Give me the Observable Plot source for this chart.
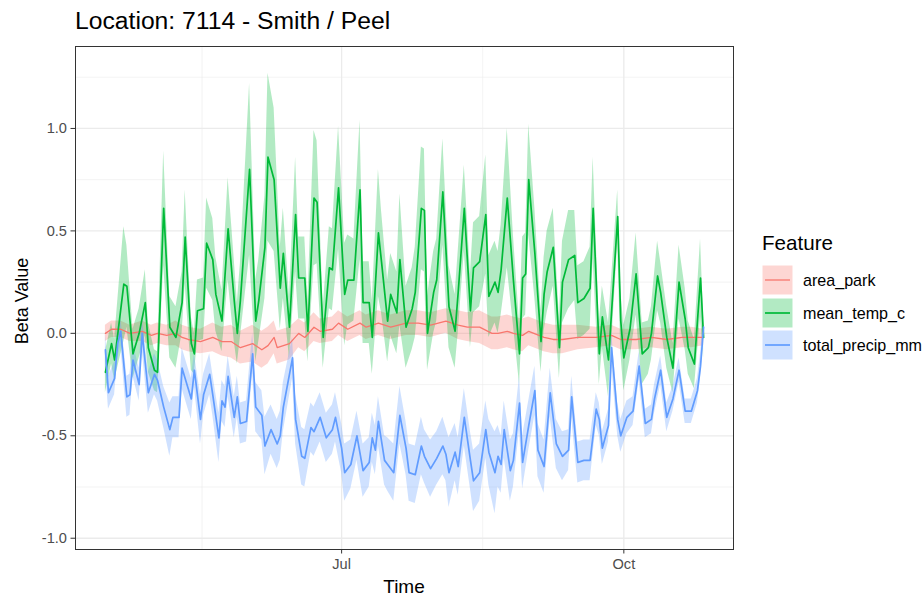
<!DOCTYPE html>
<html>
<head>
<meta charset="utf-8">
<script src="https://cdn.jsdelivr.net/npm/d3@7"></script>
<script src="https://cdn.jsdelivr.net/npm/@observablehq/plot@0.6"></script>
<style>
  html, body { margin: 0; padding: 0; background: #fff; overflow: hidden; }
  #wrap { position: relative; width: 923px; height: 597px; overflow: hidden; font-family: "Liberation Sans", Arial, sans-serif; }
  #chart { position: absolute; left: 0; top: 0; }
  .abs { position: absolute; white-space: nowrap; color: #000; line-height: 1; }
  #title { left: 75px; top: 9px; font-size: 24.7px; }
  #xlab { left: 404px; top: 577px; font-size: 19px; transform: translateX(-50%); }
  #ylab { left: 22px; top: 301px; font-size: 18px; transform: translate(-50%, -50%) rotate(-90deg); }
  #ltitle { left: 762px; top: 233px; font-size: 20.6px; }
  .lrow { position: absolute; left: 762px; height: 32.5px; display: flex; align-items: center; }
  .lrow span { font-size: 16.1px; margin-left: 10px; color: #000; line-height: 1; }
</style>
</head>
<body>
<div id="wrap">
  <div id="chart"></div>
  <div class="abs" id="title">Location: 7114 - Smith / Peel</div>
  <div class="abs" id="xlab">Time</div>
  <div class="abs" id="ylab">Beta Value</div>
  <div class="abs" id="ltitle">Feature</div>
</div>
<script>
// ---- data (day of year 2019) ----
const features = ["area_park", "mean_temp_c", "total_precip_mm"];
const colors = ["#F8766D", "#00BA38", "#619CFF"];

const parkDay = [105,107,110,113,117,120,122,125,128,130,132,136,140,143,146,149,153,156,158,160,161,165,168,170,173,175,179,181,184,188,190,194,198,203,207,211,216,220,223,227,231,233,236,238,241,243,248,251,254,259,265,270,273,278,283,288,293,296,300];
const parkMean = [0.0,0.02,0.02,0.0,0.01,-0.01,0.0,-0.01,0.0,-0.02,-0.03,-0.04,-0.02,-0.04,-0.04,-0.07,-0.05,-0.08,-0.06,-0.02,-0.07,-0.05,0.0,-0.02,0.03,0.01,0.02,0.05,0.02,0.05,0.03,0.05,0.03,0.05,0.05,0.04,0.06,0.04,0.03,0.03,0.0,0.0,0.01,0.0,-0.01,0.01,-0.02,-0.03,-0.03,-0.02,-0.02,-0.01,-0.03,-0.03,-0.02,-0.03,-0.02,-0.02,-0.02];
const parkErr = [.04,.04,.04,.04,.05,.05,.05,.05,.06,.06,.06,.06,.07,.07,.08,.08,.09,.09,.09,.08,.08,.08,.07,.07,.07,.06,.06,.06,.06,.06,.06,.06,.06,.06,.06,.06,.06,.07,.07,.08,.08,.08,.08,.08,.08,.07,.07,.07,.07,.06,.05,.05,.05,.05,.05,.05,.05,.05,.04];

const tempDay = [105,107,108,111,112,114,116,118,119,121,122,124,126,128,130,131,133,134,135,137,138,140,141,143,145,147,148,149,152,154,155,157,158,160,162,163,165,167,168,170,171,173,174,176,178,179,181,183,184,186,188,189,191,192,194,195,197,198,200,201,203,205,206,208,209,210,212,213,215,217,219,220,222,224,225,227,229,230,232,233,234,236,238,240,241,242,243,245,247,248,249,251,253,254,256,258,259,261,263,264,266,267,269,272,273,274,276,278,280,282,283,285,286,288,290,292,294,295,297,299,300];
const tempMean = [-0.19,-0.05,-0.13,0.24,0.23,-0.10,0.0,0.15,-0.07,-0.18,-0.19,0.61,0.03,-0.02,0.15,0.47,-0.05,-0.10,0.11,0.12,0.44,0.36,0.19,0.06,0.51,0.16,0.0,0.16,0.80,0.06,0.16,0.42,0.86,0.75,0.22,0.39,0.03,0.58,0.27,0.27,0.01,0.66,0.64,-0.02,0.32,0.31,0.71,0.19,0.26,0.26,0.70,0.15,0.15,-0.02,0.49,0.35,0.06,0.19,0.10,0.36,0.03,0.12,0.20,0.61,0.60,0.0,0.20,0.26,0.69,0.13,0.01,0.20,0.61,0.11,0.32,0.35,0.58,0.18,0.25,0.20,0.31,0.66,0.26,-0.10,0.27,0.29,0.75,0.39,-0.04,0.19,0.30,0.42,-0.07,0.25,0.36,0.38,0.15,0.17,0.22,0.61,-0.10,0.08,-0.13,0.57,0.06,-0.12,0.02,0.29,-0.10,-0.07,0.0,0.28,0.2,-0.02,-0.17,0.25,0.07,-0.07,-0.15,0.27,-0.02];
const tempErr = [.1,.1,.1,.28,.2,.12,.12,.16,.12,.1,.1,.28,.15,.15,.15,.23,.13,.1,.15,.15,.22,.2,.18,.15,.25,.2,.15,.18,.42,.2,.2,.25,.41,.35,.2,.22,.15,.28,.2,.2,.15,.33,.3,.15,.2,.2,.3,.25,.22,.2,.34,.2,.2,.18,.31,.25,.2,.2,.2,.32,.2,.2,.22,.3,.3,.18,.2,.2,.26,.2,.18,.2,.21,.18,.22,.22,.29,.2,.2,.2,.22,.34,.22,.15,.2,.2,.27,.22,.15,.18,.2,.19,.15,.2,.24,.22,.18,.18,.2,.25,.15,.15,.18,.13,.15,.16,.15,.2,.15,.13,.13,.17,.15,.15,.12,.18,.15,.13,.12,.19,.1];

const precipDay = [105,106,108,109,110,112,113,114,116,117,119,121,122,124,126,127,129,130,132,133,134,136,137,139,140,142,143,144,145,147,148,149,151,153,154,156,157,159,161,162,163,166,167,169,170,172,173,175,177,179,180,182,183,185,187,189,191,192,193,194,196,197,199,201,203,204,206,208,209,211,213,215,216,217,219,220,222,224,225,227,229,230,232,233,234,235,237,238,240,241,243,245,246,248,250,252,254,256,257,259,261,263,265,266,267,269,270,272,273,275,277,279,281,283,284,286,288,290,292,294,296,298,299,300];
const precipMean = [-0.08,-0.29,-0.22,-0.05,0.01,-0.31,-0.30,-0.13,-0.25,0.0,-0.29,-0.20,-0.23,-0.36,-0.47,-0.41,-0.41,-0.17,-0.27,-0.32,-0.18,-0.42,-0.30,-0.20,-0.30,-0.51,-0.33,-0.36,-0.21,-0.41,-0.31,-0.44,-0.43,-0.10,-0.36,-0.40,-0.55,-0.47,-0.54,-0.50,-0.36,-0.12,-0.42,-0.60,-0.61,-0.46,-0.48,-0.41,-0.51,-0.47,-0.41,-0.56,-0.68,-0.64,-0.50,-0.67,-0.63,-0.51,-0.57,-0.43,-0.62,-0.64,-0.68,-0.40,-0.56,-0.68,-0.69,-0.55,-0.60,-0.66,-0.61,-0.55,-0.59,-0.68,-0.58,-0.65,-0.41,-0.62,-0.72,-0.68,-0.47,-0.58,-0.68,-0.60,-0.64,-0.47,-0.67,-0.62,-0.34,-0.63,-0.45,-0.28,-0.57,-0.65,-0.29,-0.54,-0.60,-0.57,-0.31,-0.63,-0.62,-0.62,-0.37,-0.42,-0.56,-0.45,-0.07,-0.42,-0.50,-0.41,-0.38,-0.16,-0.44,-0.42,-0.32,-0.18,-0.41,-0.32,-0.18,-0.38,-0.38,-0.28,-0.16,0.03];
const precipErr = [.08,.08,.08,.07,.07,.1,.1,.08,.08,.08,.1,.1,.1,.1,.13,.1,.1,.1,.1,.1,.08,.12,.1,.1,.1,.12,.1,.1,.1,.1,.1,.1,.1,.1,.12,.12,.14,.12,.12,.12,.12,.1,.12,.14,.14,.12,.12,.12,.12,.12,.12,.12,.14,.12,.12,.13,.12,.12,.12,.12,.12,.13,.14,.14,.13,.14,.14,.14,.13,.14,.13,.14,.13,.17,.14,.14,.14,.14,.15,.14,.14,.16,.2,.15,.14,.14,.15,.13,.13,.13,.12,.12,.13,.13,.12,.12,.12,.1,.1,.1,.1,.1,.08,.08,.08,.08,.08,.08,.08,.08,.07,.07,.07,.07,.07,.07,.07,.06,.06,.06,.06,.06,.06,.05];

// axis ticks / grid
const yMajor = [-1, -0.5, 0, 0.5, 1];
const yMinor = [-0.75, -0.25, 0.25, 0.75, 1.25];
const xMajorDay = [182, 274];      // Jul 1, Oct 1
const xMinorDay = [136.5, 228];    // mid-May, mid-Aug

// ---- build tables ----
const t0 = Date.UTC(2019, 0, 1);
const toDate = d => new Date(t0 + (d - 1) * 864e5);
function table(feature, days, mean, err) {
  return days.map((d, i) => ({feature, date: toDate(d), mean: mean[i], lo: mean[i] - err[i], hi: mean[i] + err[i]}));
}
const series = [
  table(features[0], parkDay, parkMean, parkErr),
  table(features[1], tempDay, tempMean, tempErr),
  table(features[2], precipDay, precipMean, precipErr)
];
const lineWidths = [1.3, 1.7, 1.7];

const allDays = [...parkDay, ...tempDay, ...precipDay];
const dMin = d3.min(allDays), dMax = d3.max(allDays);
const pad = (dMax - dMin) * 0.05;

const chart = Plot.plot({
  width: 923, height: 597,
  marginLeft: 75, marginRight: 190, marginTop: 46, marginBottom: 48,
  style: {fontFamily: "'Liberation Sans', Arial, sans-serif", fontSize: "14.6px", color: "#4d4d4d", background: "#fff"},
  x: {type: "utc", domain: [toDate(dMin - pad), toDate(dMax + pad)]},
  y: {domain: [-1.055, 1.40]},
  marks: [
    Plot.ruleY(yMinor, {stroke: "#ebebeb", strokeWidth: 0.6}),
    Plot.ruleX(xMinorDay.map(toDate), {stroke: "#ebebeb", strokeWidth: 0.6}),
    Plot.ruleY(yMajor, {stroke: "#ebebeb", strokeWidth: 1.3}),
    Plot.ruleX(xMajorDay.map(toDate), {stroke: "#ebebeb", strokeWidth: 1.3}),
    ...series.map((s, i) => Plot.areaY(s, {x: "date", y1: "lo", y2: "hi", fill: colors[i], fillOpacity: 0.3})),
    ...series.map((s, i) => Plot.lineY(s, {x: "date", y: "mean", stroke: colors[i], strokeWidth: lineWidths[i]})),
    Plot.frame({stroke: "#333", strokeWidth: 1}),
    Plot.axisX(xMajorDay.map(toDate), {tickFormat: d3.utcFormat("%b"), tickSize: 4.5, tickPadding: 5, label: null, stroke: "#333"}),
    Plot.axisY(yMajor, {tickFormat: d => d.toFixed(1), tickSize: 4.5, tickPadding: 4, label: null, stroke: "#333"})
  ]
});
document.getElementById("chart").appendChild(chart);

// ---- legend ----
const wrap = document.getElementById("wrap");
features.forEach((f, i) => {
  const row = document.createElement("div");
  row.className = "lrow";
  row.style.top = (264 + 32.5 * i) + "px";
  row.innerHTML = `<svg width="31" height="32" style="display:block"><rect x="0.5" y="1.5" width="30" height="29" fill="${colors[i]}" fill-opacity="0.3"/><line x1="3" x2="28" y1="16" y2="16" stroke="${colors[i]}" stroke-width="${lineWidths[i]}"/></svg><span>${f}</span>`;
  wrap.appendChild(row);
});
</script>
</body>
</html>
